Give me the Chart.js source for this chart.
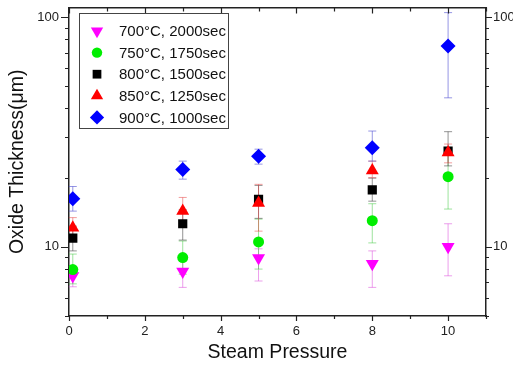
<!DOCTYPE html>
<html>
<head>
<meta charset="utf-8">
<script src="https://cdn.jsdelivr.net/npm/chart.js@4/dist/chart.umd.min.js"></script>
<style>
  body { margin: 0; background: #fff; }
  #chart { display: block; }
</style>
</head>
<body>
<canvas id="chart" width="513" height="365"></canvas>
<script>
// steam pressure values where the samples were taken
const pressures = [0.1, 3, 5, 8, 10];

const seriesLabels = ["700°C, 2000sec", "750°C, 1750sec", "800°C, 1500sec", "850°C, 1250sec", "900°C, 1000sec"];

// oxide thickness (um)
const thick700 = [7.46, 7.81, 8.95, 8.45, 10.0];
const thick750 = [7.96, 8.98, 10.5, 13.0, 20.2];
const thick800 = [10.9, 12.6, 16.1, 17.7, 26.1];
const thick850 = [12.1, 14.3, 15.5, 21.5, 25.7];
const thick900 = [16.2, 21.7, 24.8, 27.0, 74.8];

// error bar ends (low / high)
const low700 = [6.7, 6.66, 7.1, 6.66, 7.48];
const high700 = [8.2, 8.9, 9.8, 9.6, 12.6];
const low750 = [6.9, 7.6, 8.0, 10.4, 14.6];
const high750 = [9.3, 10.6, 13.2, 15.4, 26.0];
const low800 = [9.6, 10.7, 13.3, 15.8, 22.5];
const high800 = [12.3, 14.5, 18.5, 19.9, 31.7];
const low850 = [10.8, 12.3, 11.7, 20.0, 23.2];
const high850 = [13.4, 16.4, 18.7, 23.6, 28.0];
const low900 = [14.3, 19.7, 22.9, 23.6, 44.5];
const high900 = [18.3, 23.6, 26.6, 31.9, 104.5];

const xTicks = [0, 1, 2, 3, 4, 5, 6, 7, 8, 9, 10, 11];
const yTicks = [5, 6, 7, 8, 9, 10, 20, 30, 40, 50, 60, 70, 80, 90, 100];

const FONT = "'Liberation Sans', Arial, sans-serif";

const values = [thick700, thick750, thick800, thick850, thick900];
const lows = [low700, low750, low800, low850, low900];
const highs = [high700, high750, high800, high850, high900];
const markerColors = ["#ff00ff", "#00ee00", "#000000", "#ff0000", "#0000ff"];
const barColors = ["rgba(220,80,220,0.55)", "rgba(60,200,60,0.5)", "rgba(60,60,60,0.55)", "rgba(230,60,60,0.5)", "rgba(80,80,210,0.6)"];
const styles = ["triangle", "circle", "rect", "triangle", "rectRot"];
const rotations = [180, 0, 0, 0, 0];
const radii = [7.5, 5.5, 6.5, 7.5, 7.5];

const datasets = values.map((vals, i) => ({
    label: seriesLabels[i],
    data: vals.map((v, j) => ({ x: pressures[j], y: v })),
    pointStyle: styles[i],
    rotation: rotations[i],
    pointRadius: radii[i],
    pointHoverRadius: radii[i],
    backgroundColor: markerColors[i],
    borderColor: markerColors[i],
    borderWidth: 0,
    showLine: false,
    order: 5 - i,
}));

// vertical error bars, drawn under the markers
const errorBars = {
    id: "errorBars",
    beforeDatasetsDraw(chart) {
        const { ctx, scales } = chart;
        ctx.save();
        ctx.lineWidth = 1;
        lows.forEach((lo, i) => {
            ctx.strokeStyle = barColors[i];
            lo.forEach((l, j) => {
                const x = scales.x.getPixelForValue(pressures[j]);
                const y1 = scales.y.getPixelForValue(l);
                const y2 = scales.y.getPixelForValue(highs[i][j]);
                ctx.beginPath();
                ctx.moveTo(x, y1); ctx.lineTo(x, y2);
                ctx.moveTo(x - 4, y1); ctx.lineTo(x + 4, y1);
                ctx.moveTo(x - 4, y2); ctx.lineTo(x + 4, y2);
                ctx.stroke();
            });
        });
        ctx.restore();
    }
};

// tick marks on all four sides (major / minor lengths differ)
const frameTicks = {
    id: "frameTicks",
    afterDraw(chart) {
        const { ctx, chartArea: a, scales } = chart;
        ctx.save();
        ctx.strokeStyle = "#222";
        ctx.lineWidth = 1.2;
        ctx.beginPath();
        yTicks.forEach(v => {
            const y = Math.round(scales.y.getPixelForValue(v)) + 0.5;
            const major = v === 10 || v === 100;
            ctx.moveTo(a.left - (major ? 8 : 4), y); ctx.lineTo(a.left, y);
            ctx.moveTo(a.right, y); ctx.lineTo(a.right + (major ? 6 : 3), y);
        });
        xTicks.forEach(v => {
            const x = Math.round(scales.x.getPixelForValue(v)) + 0.5;
            const major = v % 2 === 0;
            ctx.moveTo(x, a.bottom); ctx.lineTo(x, a.bottom + (major ? 5 : 3));
            ctx.moveTo(x, a.top); ctx.lineTo(x, a.top + (major ? 6 : 4));
        });
        ctx.stroke();
        ctx.restore();
    }
};

// boxed legend inside the plot, upper left
const boxLegend = {
    id: "boxLegend",
    afterDraw(chart) {
        const { ctx } = chart;
        ctx.save();
        ctx.strokeStyle = "#444";
        ctx.lineWidth = 1;
        ctx.fillStyle = "#fff";
        ctx.fillRect(79.5, 13.5, 149, 115);
        ctx.strokeRect(79.5, 13.5, 149, 115);
        seriesLabels.forEach((label, i) => {
            const y = 31 + i * 21.6;
            ctx.fillStyle = markerColors[i];
            ctx.strokeStyle = markerColors[i];
            Chart.helpers.drawPoint(ctx, { pointStyle: styles[i], rotation: rotations[i], radius: radii[i] * 0.95, borderWidth: 0 }, 97, y);
            ctx.fillStyle = "#111";
            ctx.font = "15px " + FONT;
            ctx.textBaseline = "middle";
            ctx.fillText(label, 119, y + 1);
        });
        ctx.restore();
    }
};

function fixSize(prop, size) {
    return function (scale) {
        scale[prop] = size;
        scale.paddingTop = 0;
        scale.paddingBottom = 0;
        scale.paddingLeft = 0;
        scale.paddingRight = 0;
    };
}

function logTicks(scale) {
    scale.ticks = yTicks.map(v => ({ value: v }));
}

const border = { display: true, color: "#222", width: 1.5 };

new Chart(document.getElementById("chart"), {
    type: "scatter",
    data: { datasets: datasets },
    options: {
        responsive: false,
        animation: false,
        layout: { padding: 0 },
        plugins: { legend: { display: false }, tooltip: { enabled: false } },
        scales: {
            x: {
                type: "linear", position: "bottom", min: 0, max: 11,
                afterBuildTicks: s => { s.ticks = xTicks.map(v => ({ value: v })); },
                afterFit: fixSize("height", 49),
                grid: { display: false, drawTicks: false },
                border: border,
                ticks: {
                    autoSkip: false, maxRotation: 0, padding: 8, color: "#222",
                    font: { family: FONT, size: 13 },
                    callback: v => (v % 2 === 0 ? String(v) : "")
                },
                title: { display: true, text: "Steam Pressure", color: "#111", font: { family: FONT, size: 19.5 }, padding: { top: 0, bottom: 1 } }
            },
            x2: {
                type: "linear", position: "top", min: 0, max: 11,
                afterFit: fixSize("height", 5),
                grid: { display: false, drawTicks: false },
                border: border,
                ticks: { display: false }
            },
            y: {
                type: "logarithmic", position: "left", min: 5, max: 110,
                afterBuildTicks: logTicks,
                afterFit: fixSize("width", 69),
                grid: { display: false, drawTicks: false },
                border: border,
                ticks: {
                    autoSkip: false, padding: 10, color: "#222",
                    font: { family: FONT, size: 13 },
                    callback: v => (v === 10 || v === 100 ? String(v) : "")
                },
                title: { display: true, text: "Oxide Thickness(\u03bcm)", color: "#111", font: { family: FONT, size: 19.5 }, padding: { top: 6, bottom: 0 } }
            },
            y2: {
                type: "logarithmic", position: "right", min: 5, max: 110,
                afterBuildTicks: logTicks,
                afterFit: fixSize("width", 27),
                grid: { display: false, drawTicks: false },
                border: border,
                ticks: {
                    autoSkip: false, padding: 7, color: "#222",
                    font: { family: FONT, size: 13 },
                    callback: v => (v === 10 || v === 100 ? String(v) : "")
                }
            }
        }
    },
    plugins: [errorBars, frameTicks, boxLegend]
});
</script>
</body>
</html>
